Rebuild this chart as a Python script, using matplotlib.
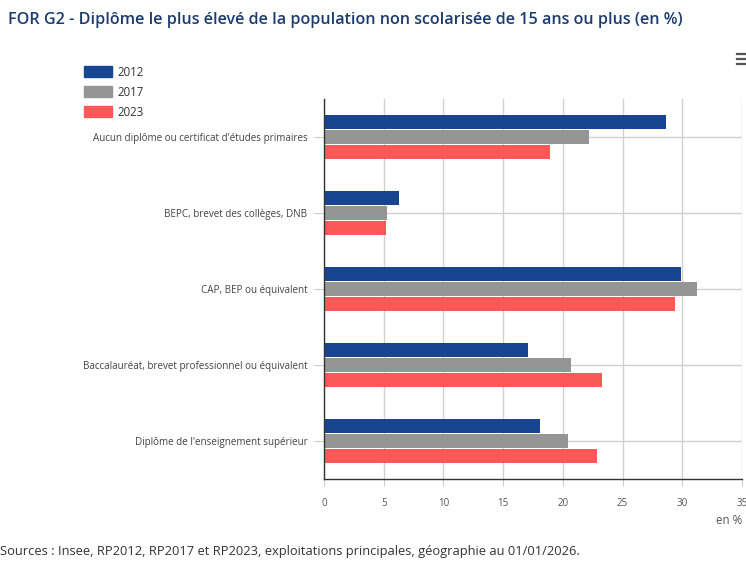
import matplotlib.pyplot as plt
import numpy as np

plt.rcParams['font.family'] = ['Open Sans', 'DejaVu Sans']

categories = [
    "Aucun diplôme ou certificat d'études primaires",
    "BEPC, brevet des collèges, DNB",
    "CAP, BEP ou équivalent",
    "Baccalauréat, brevet professionnel ou équivalent",
    "Diplôme de l'enseignement supérieur",
]
years = ["2012", "2017", "2023"]
v2012 = [28.6, 6.3, 29.9, 17.1, 18.1]
v2017 = [22.2, 5.3, 31.2, 20.7, 20.4]
v2023 = [18.9, 5.2, 29.4, 23.3, 22.9]
colors = ["#17458f", "#959595", "#fd5858"]
xticks = [0, 5, 10, 15, 20, 25, 30, 35]

W, H = 746, 564
fig = plt.figure(figsize=(W / 100, H / 100), dpi=100)
ax = fig.add_axes([324 / W, 1 - 479 / H, (742 - 324) / W, (479 - 99) / H])

y = np.arange(len(categories))
h = 0.184
step = 0.197
for i, (vals, col, lab) in enumerate(zip([v2012, v2017, v2023], colors, years)):
    ax.barh(y + (i - 1) * step, vals, height=h, color=col, label=lab, zorder=3)

ax.set_ylim(len(categories) - 0.5, -0.5)
ax.set_xlim(0, 35)
ax.set_xticks(xticks)
ax.set_xticklabels([str(t) for t in xticks], fontsize=7, color="#555555")
ax.set_yticks(y)
ax.set_yticklabels(categories, fontsize=7.1, color="#444444")
ax.tick_params(axis="y", length=7, color="#cccccc", pad=5)
ax.tick_params(axis="x", length=5, color="#cccccc", pad=9)
ax.grid(True, color="#d0d0d0", linewidth=1, zorder=0)
for s in ["top", "right"]:
    ax.spines[s].set_visible(False)
for s in ["left", "bottom"]:
    ax.spines[s].set_color("#333333")
    ax.spines[s].set_linewidth(1)
    ax.spines[s].set_zorder(4)

fig.text(8 / W, 1 - 20 / H, "FOR G2 - Diplôme le plus élevé de la population non scolarisée de 15 ans ou plus (en %)",
         fontsize=11.6, fontweight="semibold", color="#1c3b6e", va="center", ha="left")

# legend
for k, (lab, col) in enumerate(zip(years, colors)):
    yy = 72 + 20 * k
    fig.patches.append(plt.Rectangle((84 / W, 1 - (yy + 5) / H), 28 / W, 11 / H,
                                     transform=fig.transFigure, color=col, figure=fig))
    fig.text(117 / W, 1 - yy / H, lab, fontsize=8.3, color="#333333", va="center", ha="left")

# menu icon
for k in range(3):
    yy = 54 + 5 * k
    fig.add_artist(plt.Line2D([737 / W, 746 / W], [1 - yy / H, 1 - yy / H],
                              transform=fig.transFigure, color="#555555", linewidth=1.6))

fig.text(742 / W, 1 - 521 / H, "en %", fontsize=8.3, color="#555555", va="center", ha="right")
fig.text(0, 1 - 552 / H, "Sources : Insee, RP2012, RP2017 et RP2023, exploitations principales, géographie au 01/01/2026.",
         fontsize=9.3, color="#333333", va="center", ha="left")

fig.savefig("out.png", dpi=100)
